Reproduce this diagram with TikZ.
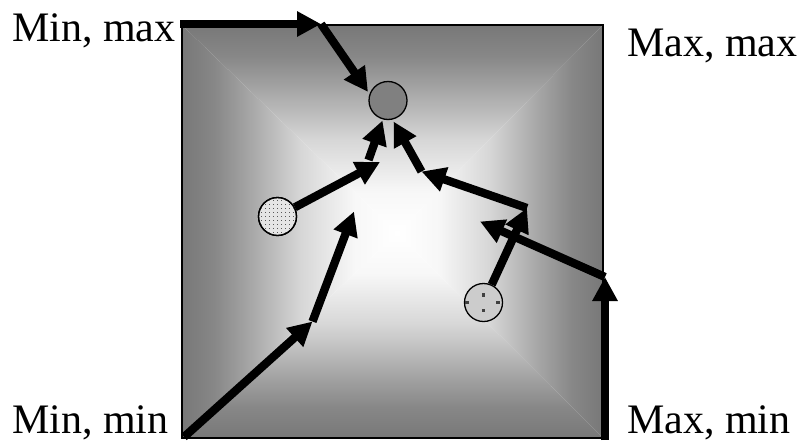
\documentclass[tikz,border=0pt]{standalone}
\usepackage{fontspec}
\setmainfont{Liberation Serif}
\usetikzlibrary{arrows.meta}
\definecolor{edgegray}{gray}{0.47}
\definecolor{topfill}{gray}{0.5}
\definecolor{dotbg}{gray}{0.9}
\definecolor{dotfg}{gray}{0.35}
\definecolor{crossbg}{gray}{0.8}
\definecolor{crossdot}{gray}{0.25}
\definecolor{gA}{gray}{0.97}
\definecolor{gB}{gray}{0.84}
\definecolor{gC}{gray}{0.64}
\definecolor{gD}{gray}{0.53}
\pgfdeclareverticalshading{pyr}{100bp}{color(0bp)=(white); color(25bp)=(white); color(35bp)=(gA); color(47.5bp)=(gB); color(60bp)=(gC); color(67.5bp)=(gD); color(75bp)=(edgegray); color(100bp)=(edgegray)}
\begin{document}
\begin{tikzpicture}[x=1pt,y=1pt,
  arrowline/.style={line width=8.3pt, -{Triangle[length=24pt,width=24pt]}},
  lab/.style={anchor=base west, inner sep=0pt, font=\fontsize{42}{42}\selectfont},
  ball/.style={circle, draw=black, line width=1.3pt, minimum size=38pt, inner sep=0pt},
  pyrshade/.style={shading=pyr, shading angle=#1}]
\useasboundingbox (0,0) rectangle (799,-442);
% background square with pyramid gradient
\coordinate (TL) at (182,-25);
\coordinate (TR) at (603,-25);
\coordinate (BR) at (603,-438);
\coordinate (BL) at (182,-438);
\coordinate (C) at (397,-233);
\shade[pyrshade=0] (TL) -- (TR) -- (C) -- cycle;
\shade[pyrshade=270] (TR) -- (BR) -- (C) -- cycle;
\shade[pyrshade=180] (BR) -- (BL) -- (C) -- cycle;
\shade[pyrshade=90] (BL) -- (TL) -- (C) -- cycle;
\draw[line width=1.5pt] (TL) rectangle (BR);
% labels
\node[lab] (minmax) at (12,-41) {Min, max};
\node[lab] (maxmax) at (627,-56) {Max, max};
\node[lab] (minmin) at (12,-433) {Min, min};
\node[lab] (maxmin) at (627,-433) {Max, min};
% circles
\node[ball, fill=topfill] (top) at (388,-100.5) {};
\node[ball, fill=dotbg] (lc) at (277.5,-216.5) {};
\begin{scope}
  \clip (lc.center) circle (18pt);
  \foreach \i in {-5,...,5} {
    \foreach \j in {-5,...,5} {
      \fill[dotfg] ([shift={(\i*4-0.75,\j*4-0.75)}]lc.center) rectangle ([shift={(\i*4+0.75,\j*4+0.75)}]lc.center);
    }
  }
\end{scope}
\draw[line width=1.3pt] (lc.center) circle (19pt);
\node[ball, fill=crossbg] (rc) at (483.5,-302.5) {};
\fill[crossdot] ([shift={(-1.7,6)}]rc.center) rectangle ([shift={(1.7,9.4)}]rc.center);
\fill[crossdot] ([shift={(-1.7,-9.7)}]rc.center) rectangle ([shift={(1.7,-6.3)}]rc.center);
\fill[crossdot] ([shift={(-18.2,-1.7)}]rc.center) rectangle ([shift={(-14.8,1.7)}]rc.center);
\fill[crossdot] ([shift={(12.8,-1.7)}]rc.center) rectangle ([shift={(16.2,1.7)}]rc.center);
% connector coordinates
\coordinate (a1s) at (180,-24);
\coordinate (a1e) at (321,-24);
\coordinate (a2e) at (368,-92);
\coordinate (a3e) at (380,-162);
\coordinate (a4s) at (368.5,-160);
\coordinate (a4e) at (382.5,-120.5);
\coordinate (a5s) at (184,-437);
\coordinate (a5e) at (312.5,-321.5);
\coordinate (a6e) at (354,-211.5);
\coordinate (a7s) at (605,-440);
\coordinate (a7e) at (605,-277);
\coordinate (a8e) at (480,-221.5);
\coordinate (a9e) at (527,-208);
\coordinate (a10e) at (421.5,-171.5);
\coordinate (a11e) at (393.5,-121.5);
% connectors
\draw[arrowline] (a1s) -- (a1e);
\draw[arrowline] (a1e) -- (a2e);
\draw[arrowline] (lc) -- (a3e);
\draw[arrowline] (a4s) -- (a4e);
\draw[arrowline] (a5s) -- (a5e);
\draw[arrowline] (a5e) -- (a6e);
\draw[arrowline] (a7s) -- (a7e);
\draw[arrowline] (a7e) -- (a8e);
\draw[arrowline] (rc) -- (a9e);
\draw[arrowline] (a9e) -- (a10e);
\draw[arrowline] (a10e) -- (a11e);
\end{tikzpicture}
\end{document}
